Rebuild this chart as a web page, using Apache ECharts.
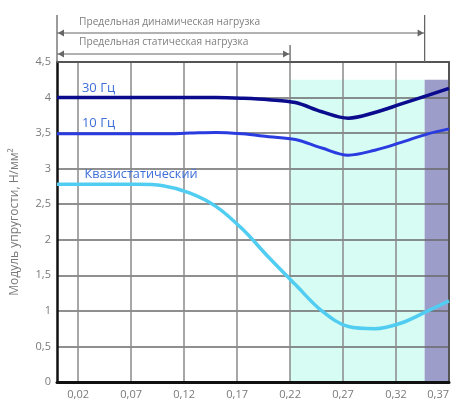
<!DOCTYPE html>
<html><head><meta charset="utf-8">
<script src="https://cdn.jsdelivr.net/npm/echarts@6/dist/echarts.min.js"></script>
<style>html,body{margin:0;padding:0;background:#fff}#c{width:470px;height:400px}</style>
</head><body><div id="c"></div>
<script>
// ---- data ----
const xTicks = [0.02, 0.07, 0.12, 0.17, 0.22, 0.27, 0.32, 0.37];
const sampleX = [0, 0.025, 0.05, 0.075, 0.1, 0.125, 0.15, 0.175, 0.2, 0.225, 0.25, 0.275, 0.3, 0.325, 0.35, 0.37];
const hz30Y = [4.00, 4.00, 4.00, 4.00, 4.00, 4.00, 4.00, 3.99, 3.97, 3.93, 3.80, 3.71, 3.79, 3.91, 4.03, 4.13];
const hz10Y = [3.49, 3.49, 3.49, 3.49, 3.49, 3.50, 3.51, 3.49, 3.45, 3.41, 3.29, 3.19, 3.26, 3.37, 3.49, 3.56];
const quasiY = [2.78, 2.78, 2.78, 2.78, 2.76, 2.66, 2.47, 2.15, 1.75, 1.37, 1.00, 0.78, 0.75, 0.83, 1.00, 1.14];
const staticLimit = 0.22;
const dynamicLimit = 0.347;
const xMax = 0.37;
const zoneTop = 4.25;
const seriesNames = ['30 Гц', '10 Гц', 'Квазистатический'];
const yAxisName = 'Модуль упругости, Н/мм²';
const dynamicText = 'Предельная динамическая нагрузка';
const staticText = 'Предельная статическая нагрузка';

const pairs = (xs, ys) => xs.map((x, i) => [x, ys[i]]);
const comma = v => String(v).replace('.', ',');
const FONT = 'Open Sans';

const chart = echarts.init(document.getElementById('c'));
const option = {
  animation: false,
  textStyle: { fontFamily: FONT },
  grid: { left: 57, right: 21, top: 62, bottom: 17 },
  xAxis: [{
    type: 'value', min: 0, max: xMax, z: 1.5,
    axisLine: { show: true, onZero: false, lineStyle: { color: '#111', width: 3 } },
    axisTick: { show: false, customValues: xTicks },
    axisLabel: { customValues: xTicks, color: '#7a7a7a', fontSize: 11, margin: 7,
      formatter: comma, alignMaxLabel: 'right' },
    splitLine: { show: true, lineStyle: { color: '#8a8a8a', width: 1.5 } }
  }, {
    type: 'value', position: 'top', min: 0, max: xMax, z: 1.5,
    axisLine: { show: true, onZero: false, lineStyle: { color: '#555', width: 2 } },
    axisTick: { show: false }, axisLabel: { show: false }, splitLine: { show: false }
  }],
  yAxis: [{
    type: 'value', min: 0, max: 4.5, interval: 0.5, z: 1.5,
    name: yAxisName, nameLocation: 'middle', nameGap: 36,
    nameTextStyle: { color: '#7a7a7a', fontSize: 12 },
    axisLine: { show: true, onZero: false, lineStyle: { color: '#111', width: 2.5 } },
    axisTick: { show: false },
    axisLabel: { color: '#7a7a7a', fontSize: 11, margin: 6, formatter: comma },
    splitLine: { show: true, lineStyle: { color: '#6a6a6a', width: 1.5 } }
  }, {
    type: 'value', position: 'right', min: 0, max: 4.5, z: 1.5,
    axisLine: { show: true, onZero: false, lineStyle: { color: '#555', width: 2 } },
    axisTick: { show: false }, axisLabel: { show: false }, splitLine: { show: false }
  }],
  series: [
    {
      type: 'line', data: [], z: 1, silent: true,
      markArea: {
        silent: true,
        data: [
          [{ xAxis: staticLimit, yAxis: 0, itemStyle: { color: '#d6fcf4' } }, { xAxis: dynamicLimit, yAxis: zoneTop }],
          [{ xAxis: dynamicLimit, yAxis: 0, itemStyle: { color: '#9d9dc9' } }, { xAxis: xMax, yAxis: zoneTop }]
        ]
      }
    },
    { name: seriesNames[0], type: 'line', z: 3, smooth: 0.35, symbol: 'none',
      lineStyle: { color: '#0b0b8e', width: 3.5 }, data: pairs(sampleX, hz30Y) },
    { name: seriesNames[1], type: 'line', z: 3, smooth: 0.35, symbol: 'none',
      lineStyle: { color: '#2a3be0', width: 3 }, data: pairs(sampleX, hz10Y) },
    { name: seriesNames[2], type: 'line', z: 3, smooth: 0.35, symbol: 'none',
      lineStyle: { color: '#52cdf2', width: 3.5 }, data: pairs(sampleX, quasiY) }
  ]
};
chart.setOption(option);

const px = (x, y) => chart.convertToPixel({ gridIndex: 0 }, [x, y]);
const x0 = px(0, 0)[0], xs = px(staticLimit, 0)[0], xd = px(dynamicLimit, 0)[0];
const yTop = px(0, 4.5)[1];
const annColor = '#666';
const vline = (x, y1) => ({ type: 'line', shape: { x1: x, y1: y1, x2: x, y2: yTop }, style: { stroke: annColor, lineWidth: 1.3 }, z: 10 });
const hline = (xa, xb, y) => ({ type: 'line', shape: { x1: xa, y1: y, x2: xb, y2: y }, style: { stroke: annColor, lineWidth: 1.2 }, z: 10 });
const arrowL = (x, y) => ({ type: 'polygon', shape: { points: [[x, y], [x + 6, y - 3.5], [x + 6, y + 3.5]] }, style: { fill: annColor }, z: 10 });
const arrowR = (x, y) => ({ type: 'polygon', shape: { points: [[x, y], [x - 6, y - 3.5], [x - 6, y + 3.5]] }, style: { fill: annColor }, z: 10 });
const label = (text, x, y, size, color) => ({ type: 'text', x: x, y: y, z: 10,
  style: { text: text, fill: color, font: size + 'px "' + FONT + '"', textVerticalAlign: 'middle', textAlign: 'left' } });

const p30 = px(0.0235, 4.13), p10 = px(0.0235, 3.64), pq = px(0.026, 2.92);
chart.setOption({
  graphic: [
    vline(x0, 15), vline(xd, 15), vline(xs, 45),
    hline(x0, xd, 33), arrowL(x0 + 1, 33), arrowR(xd - 1, 33),
    hline(x0, xs, 54), arrowL(x0 + 1, 54), arrowR(xs - 1, 54),
    label(dynamicText, 79, 22, 10.2, '#7f7f7f'),
    label(staticText, 79, 42, 10.2, '#7f7f7f'),
    label(seriesNames[0], p30[0], p30[1], 13, '#3d6fd8'),
    label(seriesNames[1], p10[0], p10[1], 13, '#3d6fd8'),
    label(seriesNames[2], pq[0], pq[1], 12.7, '#3d6fd8')
  ]
});
</script></body></html>
